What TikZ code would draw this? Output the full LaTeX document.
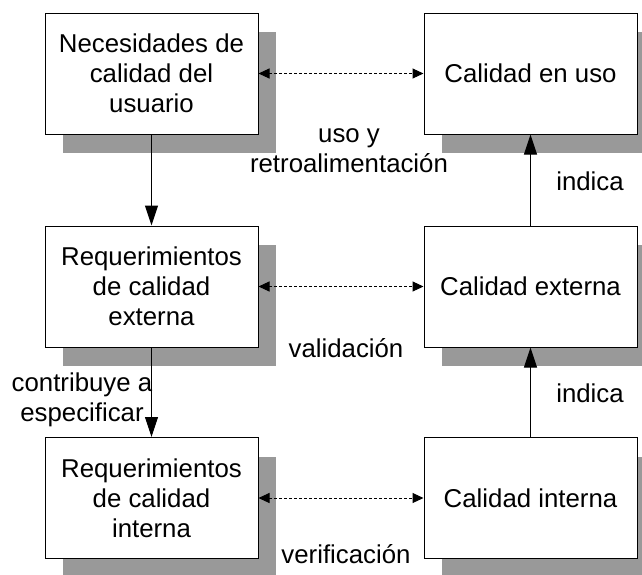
\documentclass[tikz,border=0pt]{standalone}
\usepackage{fontspec}
\setmainfont{Liberation Sans}
\usetikzlibrary{arrows.meta,shadows}
\definecolor{sombra}{RGB}{153,153,153}
\tikzset{
  caja/.style={draw,line width=1pt,fill=white,minimum width=213pt,minimum height=121pt,
    align=center,inner sep=0pt,
    drop shadow={shadow xshift=18pt,shadow yshift=-19pt,fill=sombra,opacity=1}},
  flecha/.style={line width=1pt,-{Triangle[length=20pt,width=13pt]}},
  punteada/.style={line width=1pt,dash pattern=on 3pt off 2pt,
    {Triangle[length=11pt,width=10pt]}-{Triangle[length=11pt,width=10pt]}},
  etiqueta/.style={align=center,inner sep=0pt}
}
\begin{document}
\begin{tikzpicture}[x=1pt,y=-1pt,font=\fontsize{25.8}{30}\selectfont]
\useasboundingbox (0,0) rectangle (642,574);
% cajas
\node[caja] (usuario) at (151.5,73.5) {Necesidades de\\calidad del\\usuario};
\node[caja] (uso) at (530.5,73.5) {Calidad en uso};
\node[caja] (reqext) at (151.5,286.5) {Requerimientos\\de calidad\\externa};
\node[caja] (externa) at (530.5,286.5) {Calidad externa};
\node[caja] (reqint) at (151.5,498) {Requerimientos\\de calidad\\interna};
\node[caja] (interna) at (530.5,498) {Calidad interna};
% flechas
\draw[flecha] (usuario) -- (reqext);
\draw[flecha] (reqext) -- (reqint);
\draw[flecha] (interna) -- (externa);
\draw[flecha] (externa) -- (uso);
\draw[punteada] (usuario) -- (uso);
\draw[punteada] (reqext) -- (externa);
\draw[punteada] (reqint) -- (interna);
% etiquetas
\node[etiqueta] (retro) at (349,151) {uso y\\retroalimentación};
\node[etiqueta] (valid) at (346,348) {validación};
\node[etiqueta] (verif) at (346,554) {verificación};
\node[etiqueta] (indsup) at (590,181) {indica};
\node[etiqueta] (indinf) at (590,393) {indica};
\node[etiqueta] (contrib) at (82,400) {contribuye a\\especificar};
\end{tikzpicture}
\end{document}
